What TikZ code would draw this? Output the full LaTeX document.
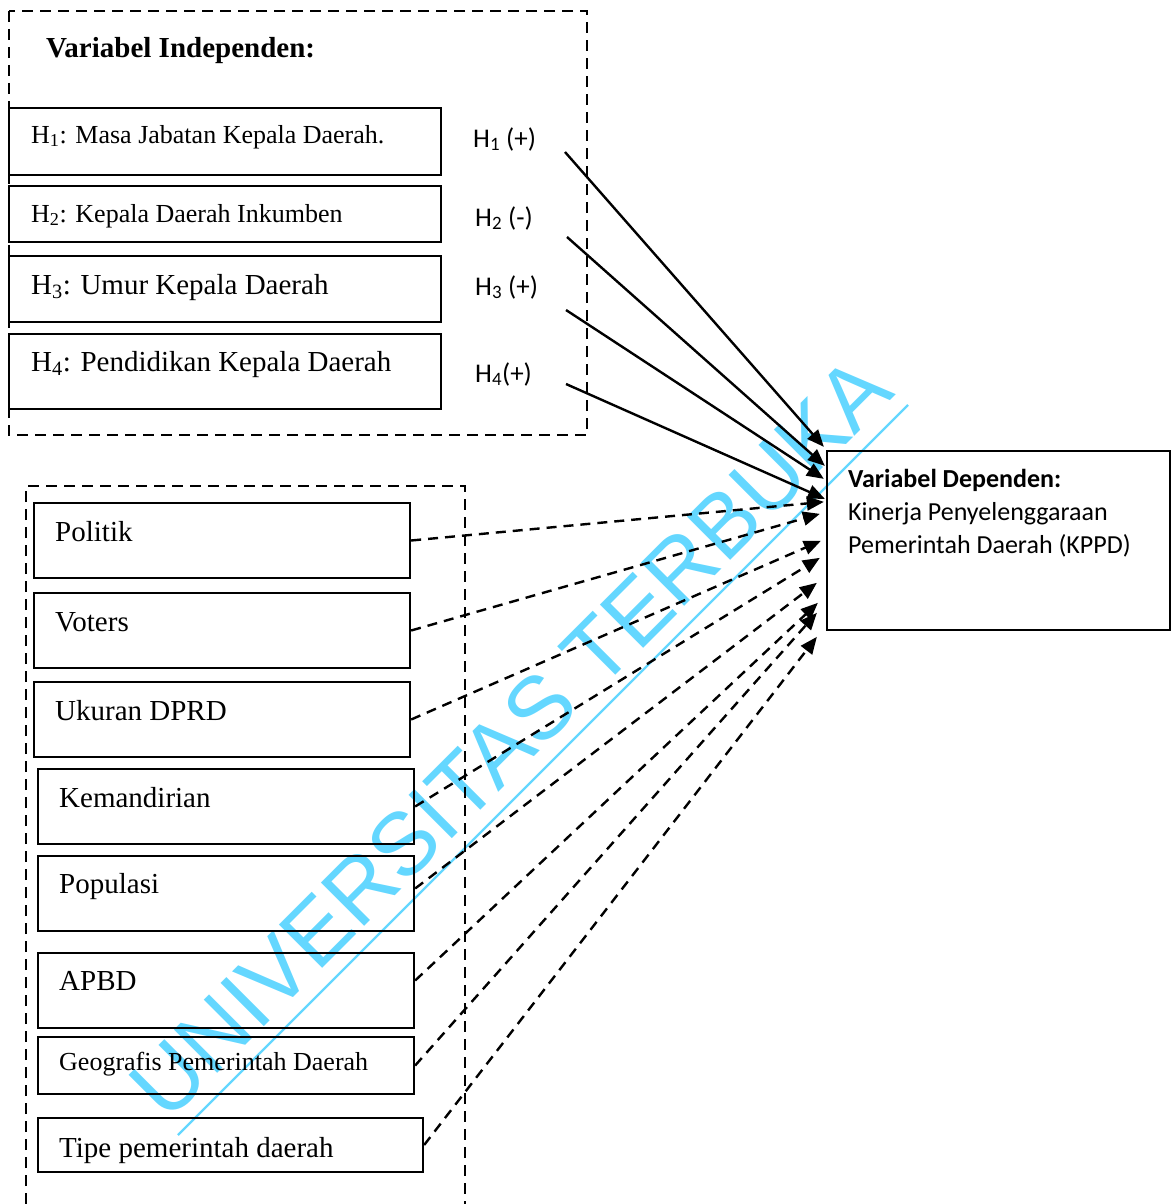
\documentclass[tikz,border=0pt]{standalone}
\usepackage{fontspec}
\setmainfont{Liberation Serif}
\newfontfamily\calibri{Carlito}
\newfontfamily\arial{Liberation Sans}
\usetikzlibrary{arrows.meta}
\definecolor{wmblue}{RGB}{100,215,255}

\begin{document}
\begin{tikzpicture}[x=1pt, y=-1pt,
  box/.style = {draw, line width=2.3pt, inner sep=0pt},
  grp/.style = {draw, line width=2.8pt, dash pattern=on 11pt off 7pt},
  txt/.style = {anchor=base west, inner sep=0pt, font=\fontsize{29}{34}\selectfont},
  stxt/.style = {anchor=base west, inner sep=0pt, font=\fontsize{26}{31}\selectfont},
  lbl/.style = {anchor=base west, inner sep=0pt, font=\calibri\fontsize{27}{32}\selectfont},
  dtxt/.style = {anchor=base west, inner sep=0pt, font=\calibri\fontsize{26}{31}\selectfont},
  sol/.style = {->, line width=2.4pt},
  dsh/.style = {->, line width=2.4pt, dash pattern=on 10pt off 7pt},
  >={Triangle[length=17pt,width=14pt]}]
\useasboundingbox (0,0) rectangle (1171,1204);

\node[rotate=45, anchor=base, inner sep=0pt, text=wmblue, font=\arial\fontsize{89}{89}\selectfont] (wm) at (532,759) {UNIVERSITAS TERBUKA};
\draw[wmblue, line width=2.2pt] (178,1135) -- (908,405);

\draw[grp] (9,11) rectangle (587,435);
\node[txt, font=\bfseries\fontsize{29}{34}\selectfont] (indep) at (46,58) {Variabel Independen:};

\node[box, minimum width=432, minimum height=67] (h1) at (225,141.5) {};
\node[box, minimum width=432, minimum height=56] (h2) at (225,214) {};
\node[box, minimum width=432, minimum height=66] (h3) at (225,289) {};
\node[box, minimum width=432, minimum height=75] (h4) at (225,371.5) {};
\node[stxt] (t1) at (31,143) {H\textsubscript{1}: Masa Jabatan Kepala Daerah.};
\node[stxt] (t2) at (31,222) {H\textsubscript{2}: Kepala Daerah Inkumben};
\node[txt] (t3) at (31,294) {H\textsubscript{3}: Umur Kepala Daerah};
\node[txt] (t4) at (31,371) {H\textsubscript{4}: Pendidikan Kepala Daerah};

\node[lbl] (l1) at (473,147) {H\textsubscript{1} (+)};
\node[lbl] (l2) at (475,226) {H\textsubscript{2} (-)};
\node[lbl] (l3) at (475,295) {H\textsubscript{3} (+)};
\node[lbl] (l4) at (475,382) {H\textsubscript{4}(+)};
\coordinate (s1) at (565,152);
\coordinate (s2) at (567,237);
\coordinate (s3) at (566,310);
\coordinate (s4) at (566,384);

\node[box, minimum width=343, minimum height=179] (dep) at (998.5,540.5) {};
\node[dtxt, font=\calibri\bfseries\fontsize{26}{31}\selectfont] (d1) at (848,487) {Variabel Dependen:};
\node[dtxt] (d2) at (848,520) {Kinerja Penyelenggaraan};
\node[dtxt] (d3) at (848,553) {Pemerintah Daerah (KPPD)};

\draw[grp] (26,1204) -- (26,486) -- (465,486) -- (465,1204);

\node[box, minimum width=376, minimum height=75] (pol) at (222,540.5) {};
\node[box, minimum width=376, minimum height=75] (vot) at (222,630.5) {};
\node[box, minimum width=376, minimum height=75] (ukr) at (222,719.5) {};
\node[box, minimum width=376, minimum height=75] (kem) at (226,806.5) {};
\node[box, minimum width=376, minimum height=75] (pop) at (226,893.5) {};
\node[box, minimum width=376, minimum height=75] (apb) at (226,990.5) {};
\node[box, minimum width=376, minimum height=57] (geo) at (226,1065.5) {};
\node[box, minimum width=385, minimum height=54] (tip) at (230.5,1145) {};
\node[txt] at (55,541) {Politik};
\node[txt] at (55,631) {Voters};
\node[txt] at (55,720) {Ukuran DPRD};
\node[txt] at (59,807) {Kemandirian};
\node[txt] at (59,893) {Populasi};
\node[txt] at (59,990) {APBD};
\node[stxt] at (59,1070) {Geografis Pemerintah Daerah};
\node[txt] at (59,1157) {Tipe pemerintah daerah};

\draw[sol] (s1) -- ([shift={(-2,-3)}]dep.north west);
\draw[sol] (s2) -- ([shift={(-1,16)}]dep.north west);
\draw[sol] (s3) -- ([shift={(-2,29)}]dep.north west);
\draw[sol] (s4) -- ([shift={(-1,49)}]dep.north west);

\draw[dsh] (pol.east) -- ([shift={(-2,52)}]dep.north west);
\draw[dsh] (vot.east) -- ([shift={(-6,64)}]dep.north west);
\draw[dsh] (ukr.east) -- ([shift={(-5,91)}]dep.north west);
\draw[dsh] (kem.east) -- ([shift={(-6,108)}]dep.north west);
\draw[dsh] ([shift={(0,-5)}]pop.east) -- ([shift={(-9,133)}]dep.north west);
\draw[dsh] ([shift={(0,-10)}]apb.east) -- ([shift={(-8,153)}]dep.north west);
\draw[dsh] (geo.east) -- ([shift={(-9,163)}]dep.north west);
\draw[dsh] (tip.east) -- ([shift={(-9,187)}]dep.north west);
\end{tikzpicture}
\end{document}
